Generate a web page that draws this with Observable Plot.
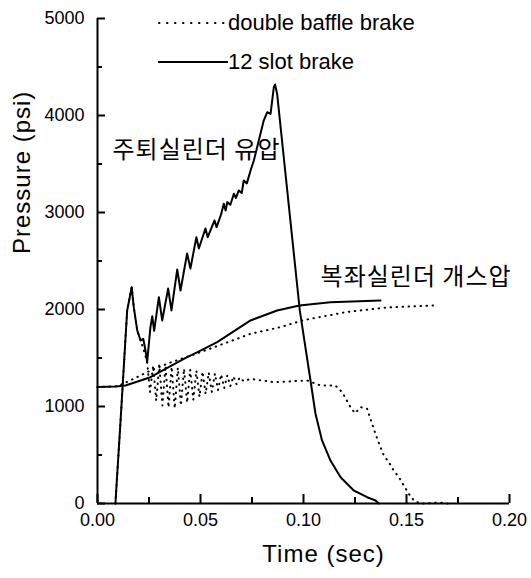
<!DOCTYPE html>
<html><head><meta charset="utf-8">
<script src="https://cdn.jsdelivr.net/npm/d3@7"></script>
<script src="https://cdn.jsdelivr.net/npm/@observablehq/plot@0.6"></script>
<style>
body{margin:0;background:#fff;}
#wrap{position:relative;width:531px;height:578px;font-family:"Liberation Sans",Arial,sans-serif;color:#000;}
.leg{position:absolute;left:156px;height:26px;display:flex;align-items:center;font-size:22px;white-space:nowrap;}
.leg svg{display:block;}
</style></head><body><div id="wrap"></div>
<script>
// ---- data ----
const xDomain = [0, 0.2];
const yDomain = [0, 5000];
const xMajorTicks = [0, 0.05, 0.10, 0.15, 0.20];
const xMinorTicks = [0.025, 0.075, 0.125, 0.175];
const yMajorTicks = [0, 1000, 2000, 3000, 4000, 5000];
const yMinorTicks = [500, 1500, 2500, 3500, 4500];
const xTitle = ["Time (sec)"];
const yTitle = ["Pressure (psi)"];

const legendLabels = ["double baffle brake", "12 slot brake"];
const legendDashes = ["0.5,7.5", null];

// 12 slot brake: recoil cylinder oil pressure (solid)
const slotRecoilT = [0.0087,0.0112,0.0144,0.0166,0.0176,0.0193,0.0209,0.0222,0.0233,0.0241,0.0257,0.0266,0.0275,0.0298,0.0314,0.0343,0.0359,0.0387,0.0403,0.0435,0.0451,0.0480,0.0492,0.0524,0.0535,0.0568,0.0578,0.0600,0.0613,0.0622,0.0630,0.0645,0.0662,0.0672,0.0686,0.0700,0.0710,0.0725,0.0743,0.0759,0.0783,0.0807,0.0824,0.0840,0.0856,0.0862,0.0872,0.0982,0.1034,0.1058,0.1090,0.1131,0.1180,0.1244,0.1309,0.1350,0.1365];
const slotRecoilP = [0,856,1990,2230,2024,1784,1680,1698,1577,1457,1818,1930,1780,2127,1887,2216,1990,2412,2196,2577,2423,2745,2629,2835,2745,2918,2849,2980,3090,3020,3107,3080,3193,3150,3227,3200,3330,3300,3433,3536,3742,3948,4034,4017,4292,4320,4223,1990,1268,928,650,443,271,134,65,31,0];

// 12 slot brake: recuperator gas pressure (solid)
const slotGasT = [0,0.009,0.0136,0.0257,0.0419,0.0500,0.0581,0.0743,0.0872,0.0980,0.1131,0.1374];
const slotGasP = [1200,1205,1216,1302,1491,1577,1663,1887,1990,2041,2075,2093];

// double baffle brake: recoil cylinder oil pressure (dotted)
const baffleRecoilT = [0.0087,0.0112,0.0144,0.0166,0.0176,0.0193,0.0209,0.0222,0.0233,0.0241,0.0255,0.0270,0.0285,0.0300,0.0315,0.0330,0.0345,0.0360,0.0375,0.0390,0.0405,0.0420,0.0435,0.0450,0.0465,0.0480,0.0495,0.0510,0.0525,0.0540,0.0555,0.0570,0.0585,0.0600,0.0615,0.0630,0.0645,0.0660,0.0675,0.0690,0.0710,0.0743,0.0856,0.1018,0.1083,0.1155,0.1188,0.1228,0.1250,0.1277,0.1309,0.1333,0.1358,0.1390,0.1414,0.1438,0.1463,0.1487,0.1511,0.1540,0.1580,0.1660,0.1700];
const baffleRecoilP = [0,856,1990,2230,2024,1784,1680,1600,1520,1457,1150,1420,1060,1430,1010,1420,990,1410,980,1400,1010,1390,1040,1380,1070,1370,1100,1360,1130,1350,1150,1340,1170,1330,1190,1320,1210,1310,1230,1300,1260,1285,1251,1268,1216,1216,1147,993,930,993,976,821,667,495,426,340,271,186,100,20,0,10,0];

// double baffle brake: recuperator gas pressure (dotted)
const baffleGasT = [0,0.010,0.018,0.0257,0.035,0.050,0.0743,0.0888,0.1000,0.1212,0.1400,0.1633];
const baffleGasP = [1200,1210,1290,1371,1450,1560,1749,1818,1890,1975,2020,2041];

// annotations
const annText = ["주퇴실린더 유압", "복좌실린더 개스압"];
const annT = [0.0073, 0.1083];
const annP = [3640, 2330];

// ---- build ----
const W = 531, H = 578, ML = 97, MR = 22, MT = 18, MB = 75;
const frameW = W - ML - MR, frameH = H - MT - MB;
const toRows = (T, P) => T.map((t, i) => ({t, p: P[i]}));
const dotStyle = {stroke: "#000", strokeWidth: 2, strokeDasharray: "0.5,5.5", strokeLinecap: "round"};
const solidStyle = {stroke: "#000", strokeWidth: 2, strokeLinejoin: "round"};
const ann = annText.map((s, i) => ({s, t: annT[i], p: annP[i]}));
// inward ticks: rules shortened with insets to the tick length
const yTick = (vals, len) => Plot.ruleY(vals, {insetRight: frameW - len, stroke: "#000", strokeWidth: 2});
const xTick = (vals, len) => Plot.ruleX(vals, {insetTop: frameH - len, stroke: "#000", strokeWidth: 2});

const chart = Plot.plot({
  width: W, height: H,
  marginLeft: ML, marginRight: MR, marginTop: MT, marginBottom: MB,
  style: {fontFamily: "'Liberation Sans', Arial, sans-serif", fontSize: "18px", color: "#000", background: "#fff", overflow: "visible"},
  x: {domain: xDomain},
  y: {domain: yDomain},
  marks: [
    Plot.line(toRows(baffleGasT, baffleGasP), {x: "t", y: "p", ...dotStyle}),
    Plot.line(toRows(baffleRecoilT, baffleRecoilP), {x: "t", y: "p", ...dotStyle}),
    Plot.line(toRows(slotGasT, slotGasP), {x: "t", y: "p", ...solidStyle}),
    Plot.line(toRows(slotRecoilT, slotRecoilP), {x: "t", y: "p", ...solidStyle}),
    Plot.text(ann, {x: "t", y: "p", text: "s", textAnchor: "start", fontSize: 24, fontFamily: "'Noto Sans CJK KR', sans-serif", fill: "#000"}),
    // inward tick marks
    yTick(yMajorTicks, 8),
    yTick(yMinorTicks, 5),
    xTick(xMajorTicks, 9),
    xTick(xMinorTicks, 6),
    // tick labels
    Plot.axisY({ticks: yMajorTicks, tickSize: 0, tickPadding: 13, tickFormat: d => String(d), label: null}),
    Plot.axisX({ticks: xMajorTicks, tickSize: 0, tickPadding: 10, tickFormat: d3.format(".2f"), label: null}),
    // axis titles
    Plot.text(xTitle, {frameAnchor: "bottom", text: d => d, dx: 20, dy: 58, fontSize: 24, fill: "#000"}),
    Plot.text(yTitle, {frameAnchor: "left", text: d => d, rotate: -90, dx: -75, dy: -7, fontSize: 24, fill: "#000"}),
    // axis lines
    Plot.ruleX([xDomain[0]], {strokeWidth: 2}),
    Plot.ruleY([yDomain[0]], {strokeWidth: 2})
  ]
});

const wrap = document.getElementById("wrap");
wrap.appendChild(chart);
chart.querySelectorAll('g[aria-label="text"] text').forEach(t => {
  t.style.letterSpacing = "1px";
});

// legend overlay
const legTops = [10, 49];
legendLabels.forEach((lab, i) => {
  const row = document.createElement("div");
  row.className = "leg";
  row.style.top = legTops[i] + "px";
  const w = 72;
  row.innerHTML = `<svg width="${w}" height="6"><line x1="${legendDashes[i] ? 3 : 2}" y1="3" x2="${legendDashes[i] ? 68 : 72}" y2="3" stroke="#000" stroke-width="2" ${legendDashes[i] ? `stroke-dasharray="${legendDashes[i]}" stroke-linecap="round"` : ""}/></svg><span>${lab}</span>`;
  wrap.appendChild(row);
});
</script></body></html>
